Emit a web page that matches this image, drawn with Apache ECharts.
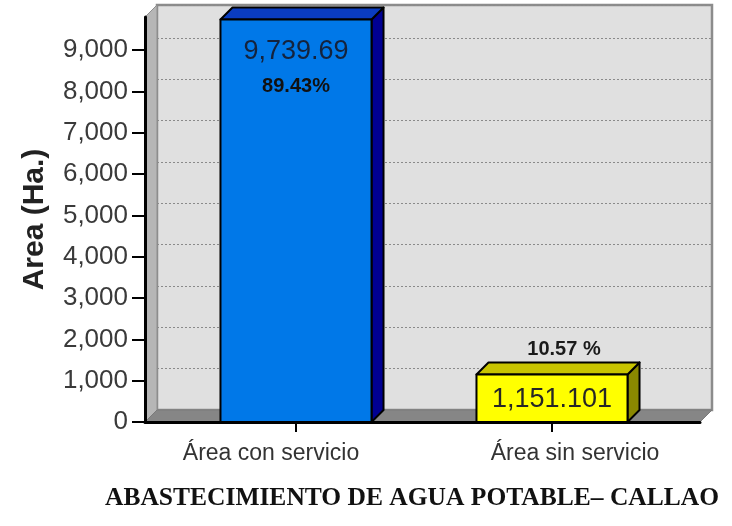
<!DOCTYPE html>
<html>
<head>
<meta charset="utf-8">
<script src="https://cdn.jsdelivr.net/npm/echarts@6/dist/echarts.min.js"></script>
<style>
  html, body { margin: 0; padding: 0; background: #fff; }
  #chart { width: 732px; height: 526px; }
</style>
</head>
<body>
<div id="chart"></div>
<script>
// datos del grafico
var categories = ['Área con servicio', 'Área sin servicio'];
var areaValues = [9739.69, 1151.101];
var percentLabels = ['89.43%', '10.57 %'];
var yTicks = [0, 1000, 2000, 3000, 4000, 5000, 6000, 7000, 8000, 9000];
var yMax = 9800;

var DEPTH = 12;
var barColors = [
    {front: '#0078e8', top: '#0a3cc0', side: '#000092', text: '#14233d'},
    {front: '#ffff00', top: '#c8c400', side: '#8a8800', text: '#262626'}
];

function fmt(v) {
    return v.toLocaleString('en-US', {maximumFractionDigits: 3});
}

// paredes laterales y piso
function renderWalls(params, api) {
    var cs = params.coordSys, d = DEPTH;
    var x = cs.x, y = cs.y, w = cs.width, h = cs.height;
    return {
        type: 'group',
        children: [
            {type: 'polygon', shape: {points: [[x, y + h], [x, y], [x + d, y - d], [x + d, y + h - d]]},
             style: {fill: '#b6b6b6', stroke: '#8e8e8e', lineWidth: 1}},
            {type: 'polygon', shape: {points: [[x, y + h], [x + w, y + h], [x + w + d, y + h - d], [x + d, y + h - d]]},
             style: {fill: '#868686', stroke: '#7a7a7a', lineWidth: 1}}
        ]
    };
}

function renderBar(params, api) {
    var i = params.dataIndex, d = DEPTH, c = barColors[i];
    var base = api.coord([api.value(0), 0]);
    var top = api.coord([api.value(0), api.value(1)]);
    var bw = api.size([1, 0])[0] * 0.59;
    var x0 = top[0] - bw / 2, x1 = top[0] + bw / 2, y0 = top[1], y1 = base[1];
    var line = {stroke: '#000', lineWidth: 2, lineJoin: 'round'};
    var kids = [
        {type: 'polygon', shape: {points: [[x1, y0], [x1 + d, y0 - d], [x1 + d, y1 - d], [x1, y1]]},
         style: Object.assign({fill: c.side}, line)},
        {type: 'polygon', shape: {points: [[x0, y0], [x0 + d, y0 - d], [x1 + d, y0 - d], [x1, y0]]},
         style: Object.assign({fill: c.top}, line)},
        {type: 'rect', shape: {x: x0, y: y0, width: bw, height: y1 - y0},
         style: Object.assign({fill: c.front}, line)}
    ];
    var cx = (x0 + x1) / 2;
    if (y1 - y0 > 100) {
        kids.push({type: 'text', style: {x: cx, y: y0 + 32, text: fmt(api.value(1)), align: 'center', verticalAlign: 'middle',
            fill: c.text, font: '27px "Liberation Sans", Arial, sans-serif'}});
        kids.push({type: 'text', style: {x: cx, y: y0 + 67, text: percentLabels[i], align: 'center', verticalAlign: 'middle',
            fill: '#111', font: 'bold 20px "Liberation Sans", Arial, sans-serif'}});
    } else {
        kids.push({type: 'text', style: {x: cx, y: (y0 + y1) / 2 + 1, text: fmt(api.value(1)), align: 'center', verticalAlign: 'middle',
            fill: c.text, font: '27px "Liberation Sans", Arial, sans-serif'}});
        kids.push({type: 'text', style: {x: cx + d / 2 + 6, y: y0 - d - 13, text: percentLabels[i], align: 'center', verticalAlign: 'middle',
            fill: '#1a1a1a', font: 'bold 20px "Liberation Sans", Arial, sans-serif'}});
    }
    return {type: 'group', children: kids};
}

var chart = echarts.init(document.getElementById('chart'));
chart.setOption({
    backgroundColor: '#fff',
    animation: false,
    title: {
        text: 'ABASTECIMIENTO DE AGUA POTABLE– CALLAO',
        left: 407, top: 480, textAlign: 'center',
        textStyle: {fontFamily: '"Liberation Serif", "Times New Roman", serif', fontWeight: 'bold', fontSize: 25.5, color: '#111'}
    },
    grid: [
        // frente (ejes)
        {left: 145, top: 17, right: 32, bottom: 104},
        // barras
        {left: 168, top: 17, right: 52, bottom: 104},
        // pared del fondo
        {left: 157, top: 5, right: 20, bottom: 116, show: true, backgroundColor: '#e0e0e0', borderColor: '#8c8c8c', borderWidth: 2.5}
    ],
    xAxis: [
        {gridIndex: 0, type: 'category', data: categories, z: 5,
         axisLine: {lineStyle: {color: '#000', width: 3}}, axisTick: {show: false}, axisLabel: {show: false}},
        {gridIndex: 1, type: 'category', data: categories, z: 5,
         axisLine: {show: false},
         axisTick: {show: true, alignWithLabel: true, length: 10, lineStyle: {color: '#000', width: 2}},
         axisLabel: {
             margin: 20,
             formatter: function (v, idx) { return idx === 0 ? '{l|' + v + '}' : '{r|' + v + '}'; },
             rich: {
                 l: {padding: [0, 50, 0, 0], fontSize: 23, color: '#333', fontFamily: '"Liberation Sans", Arial, sans-serif'},
                 r: {padding: [0, 0, 0, 46], fontSize: 23, color: '#333', fontFamily: '"Liberation Sans", Arial, sans-serif'}
             }
         }},
        {gridIndex: 2, type: 'category', data: categories, show: false}
    ],
    yAxis: [
        {gridIndex: 0, type: 'value', min: 0, max: yMax, interval: 1000, z: 5,
         name: 'Area (Ha.)', nameLocation: 'middle', nameGap: 95, nameRotate: 90,
         nameTextStyle: {fontSize: 30, fontWeight: 'bold', color: '#222', fontFamily: '"Liberation Sans", Arial, sans-serif'},
         axisLine: {show: true, lineStyle: {color: '#000', width: 3}},
         axisTick: {show: true, length: 13, lineStyle: {color: '#000', width: 2}, customValues: yTicks},
         axisLabel: {margin: 17, fontSize: 26, color: '#3a3a3a', fontFamily: '"Liberation Sans", Arial, sans-serif',
                     customValues: yTicks, formatter: function (v) { return fmt(v); }},
         splitLine: {show: false}},
        {gridIndex: 1, type: 'value', min: 0, max: yMax, show: false},
        {gridIndex: 2, type: 'value', min: 0, max: yMax, interval: 1000,
         axisLine: {show: false}, axisTick: {show: false}, axisLabel: {show: false},
         splitLine: {show: true, lineStyle: {color: '#8a8a8a', type: [2, 2], width: 1}}}
    ],
    series: [
        {type: 'custom', xAxisIndex: 0, yAxisIndex: 0, z: 1, silent: true, clip: false,
         data: [[0, 0]], renderItem: renderWalls},
        {type: 'custom', xAxisIndex: 1, yAxisIndex: 1, z: 3, clip: false,
         data: categories.map(function (c, i) { return [i, areaValues[i]]; }),
         encode: {x: 0, y: 1}, renderItem: renderBar}
    ]
});
</script>
</body>
</html>
